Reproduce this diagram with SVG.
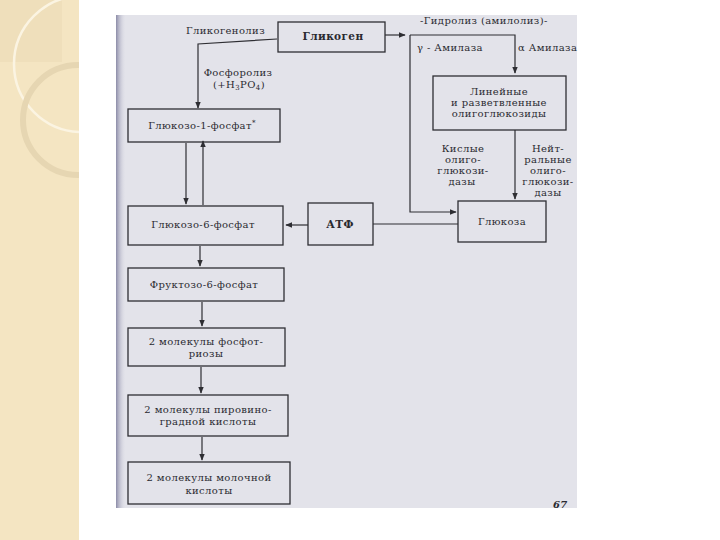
<svg xmlns="http://www.w3.org/2000/svg" width="720" height="540" viewBox="0 0 720 540">
<style>
.box{fill:none;stroke:#2e2e33;stroke-width:1.3}
.ln{fill:none;stroke:#2e2e33;stroke-width:1.2}
.t{font-family:"DejaVu Serif","Liberation Serif",serif;font-size:10px;letter-spacing:0.4px;fill:#2a2a30;text-anchor:middle}
.tb{font-family:"DejaVu Serif","Liberation Serif",serif;font-size:10.5px;font-weight:bold;letter-spacing:0.4px;fill:#2a2a30;text-anchor:middle}
.lab{font-family:"DejaVu Serif","Liberation Serif",serif;font-size:10px;letter-spacing:0.4px;fill:#2a2a30}
</style>
<defs>
<marker id="ar" viewBox="0 0 10 10" refX="9" refY="5" markerWidth="6" markerHeight="6" orient="auto-start-reverse">
<path d="M0,1 L10,5 L0,9 Z" fill="#2e2e33"/>
</marker>
<linearGradient id="edge" x1="0" y1="0" x2="1" y2="0">
<stop offset="0" stop-color="#8c8ca8"/>
<stop offset="1" stop-color="#e2e2ea" stop-opacity="0"/>
</linearGradient>
<clipPath id="strip"><rect x="0" y="0" width="79" height="540"/></clipPath>
</defs>
<rect x="0" y="0" width="720" height="540" fill="#ffffff"/>
<g id="decor" clip-path="url(#strip)">
<rect x="0" y="0" width="79" height="540" fill="#f4e5c2"/>
<rect x="0" y="0" width="62" height="62" fill="#efdfbb"/>
<circle cx="82" cy="64" r="68" fill="none" stroke="#fbf4e2" stroke-width="2.5"/>
<circle cx="78" cy="120" r="55" fill="none" stroke="#e6d6b2" stroke-width="6"/>
</g>
<g id="photo">
<rect x="116" y="15" width="461" height="493" fill="#e3e3ea"/>
<rect x="116" y="15" width="10" height="493" fill="url(#edge)"/>
</g>
<g id="connectors">
<polyline class="ln" points="277,39 198,44 198,108" marker-end="url(#ar)"/>
<line class="ln" x1="385" y1="35" x2="405" y2="35" marker-end="url(#ar)"/>
<polyline class="ln" points="410,35 515,35 515,73" marker-end="url(#ar)"/>
<polyline class="ln" points="410,35 410,212 456,212" marker-end="url(#ar)"/>
<line class="ln" x1="515" y1="130" x2="515" y2="199" marker-end="url(#ar)"/>
<line class="ln" x1="373" y1="224" x2="458" y2="224"/>
<line class="ln" x1="308" y1="225" x2="286" y2="225" marker-end="url(#ar)"/>
<line class="ln" x1="186" y1="143" x2="186" y2="204" marker-end="url(#ar)"/>
<line class="ln" x1="203" y1="205" x2="203" y2="141" marker-end="url(#ar)"/>
<line class="ln" x1="200" y1="246" x2="200" y2="266" marker-end="url(#ar)"/>
<line class="ln" x1="202" y1="302" x2="202" y2="326" marker-end="url(#ar)"/>
<line class="ln" x1="201" y1="367" x2="201" y2="393" marker-end="url(#ar)"/>
<line class="ln" x1="202" y1="437" x2="202" y2="460" marker-end="url(#ar)"/>
</g>
<g id="labels">
<text class="lab" x="186" y="34">Гликогенолиз</text>
<text class="t" x="238" y="76">Фосфоролиз</text>
<text class="t" x="239" y="88">(+H<tspan font-size="7" dy="2">3</tspan><tspan dy="-2">PO</tspan><tspan font-size="7" dy="2">4</tspan><tspan dy="-2">)</tspan></text>
<text class="lab" x="420" y="24">-Гидролиз  (амилолиз)-</text>
<text class="lab" x="417" y="51">γ - Амилаза</text>
<text class="lab" x="518" y="51">α Амилаза</text>
<text class="t" x="463" y="152">Кислые</text>
<text class="t" x="463" y="163">олиго-</text>
<text class="t" x="463" y="174">глюкози-</text>
<text class="t" x="462" y="185">дазы</text>
<text class="t" x="548" y="152">Нейт-</text>
<text class="t" x="548" y="163">ральные</text>
<text class="t" x="548" y="174">олиго-</text>
<text class="t" x="548" y="185">глюкози-</text>
<text class="t" x="548" y="196">дазы</text>
<text class="lab" x="553" y="508" font-size="8" font-weight="bold" font-style="italic">67</text>
</g>
<g id="n-glycogen">
<rect class="box" x="278" y="22" width="107" height="30"/>
<text class="tb" x="333" y="40">Гликоген</text>
</g>
<g id="n-oligo">
<rect class="box" x="433" y="76" width="133" height="54"/>
<text class="t" x="499" y="95">Линейные</text>
<text class="t" x="499" y="106">и разветвленные</text>
<text class="t" x="499" y="117">олигоглюкозиды</text>
</g>
<g id="n-glucose">
<rect class="box" x="458" y="201" width="88" height="41"/>
<text class="t" x="502" y="225">Глюкоза</text>
</g>
<g id="n-atp">
<rect class="box" x="308" y="203" width="65" height="42"/>
<text class="tb" x="340" y="228">АТФ</text>
</g>
<g id="n-g1p">
<rect class="box" x="128" y="109" width="152" height="33"/>
<text class="t" x="202" y="129">Глюкозо-1-фосфат<tspan font-size="7" dy="-4">*</tspan></text>
</g>
<g id="n-g6p">
<rect class="box" x="128" y="206" width="155" height="39"/>
<text class="t" x="203" y="228">Глюкозо-6-фосфат</text>
</g>
<g id="n-f6p">
<rect class="box" x="128" y="268" width="156" height="33"/>
<text class="t" x="204" y="288">Фруктозо-6-фосфат</text>
</g>
<g id="n-triose">
<rect class="box" x="128" y="328" width="157" height="38"/>
<text class="t" x="206" y="345">2 молекулы фосфот-</text>
<text class="t" x="206" y="357">риозы</text>
</g>
<g id="n-pyruvate">
<rect class="box" x="128" y="395" width="160" height="41"/>
<text class="t" x="208" y="413">2 молекулы пировино-</text>
<text class="t" x="208" y="425">градной кислоты</text>
</g>
<g id="n-lactate">
<rect class="box" x="128" y="462" width="162" height="42"/>
<text class="t" x="209" y="481">2 молекулы молочной</text>
<text class="t" x="209" y="494">кислоты</text>
</g>
</svg>
